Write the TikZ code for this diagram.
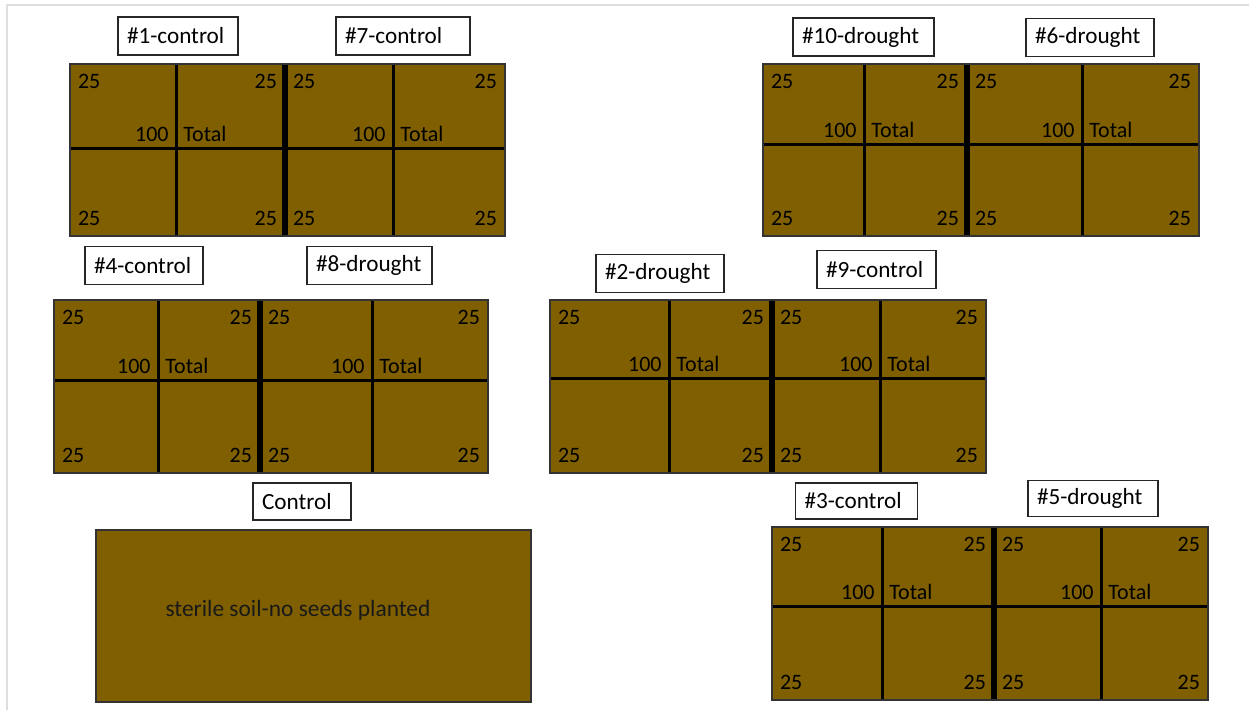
\documentclass[tikz,border=0pt]{standalone}
\usepackage{fontspec}
\setmainfont{Carlito}
\usepackage{tikz}
\usetikzlibrary{positioning}

\definecolor{soilbrown}{RGB}{127,95,0}
\definecolor{framegray}{RGB}{222,222,222}

% text of one half: four corner counts, the sum and its label
\newcommand{\plothalf}[7]{%
  \node[num, anchor=north west] (#1-tl) at (#2,#5) {25};
  \node[num, anchor=north east] (#1-tr) at (#4,#5) {25};
  \node[num, anchor=south west] (#1-bl) at (#2,#7) {25};
  \node[num, anchor=south east] (#1-br) at (#4,#7) {25};
  \node[num, anchor=south east, inner sep=3.5pt] (#1-sum) at (#3,#6) {100};
  \node[num, anchor=south west, inner sep=3.5pt] (#1-tot) at (#3,#6) {Total};
}
% a pair of plots: left, top, right, bottom, divider, mid1, mid2, hline, name
\newcommand{\plotpair}[9]{%
  \fill[soil] (#1,#2) rectangle (#3,#4);
  \draw[cellline] (#1,#8) -- (#3,#8);
  \draw[cellline] (#6,#2) -- (#6,#4);
  \draw[cellline] (#7,#2) -- (#7,#4);
  \draw[divider] (#5,#2) -- (#5,#4);
  \draw[plotedge] (#1,#2) rectangle (#3,#4);
  \plothalf{#9a}{#1}{#6}{#5}{#2}{#8}{#4}
  \plothalf{#9b}{#5}{#7}{#3}{#2}{#8}{#4}
}

\begin{document}
\begin{tikzpicture}[
  x=0.5pt, y=-0.5pt,
  soil/.style={fill=soilbrown},
  plotedge/.style={draw=black!80, line width=0.8pt},
  cellline/.style={draw=black, line width=1.5pt},
  divider/.style={draw=black, line width=3.2pt},
  num/.style={inner xsep=3.8pt, inner ysep=5pt, text=black, font=\fontsize{11}{13}\selectfont},
  labelbox/.style={draw=black!85, line width=0.8pt, fill=white, align=left, inner xsep=4.5pt,
    minimum height=19pt, font=\fontsize{11.6}{14}\selectfont},
]
\useasboundingbox (0,0) rectangle (1249,710);
\draw[framegray, line width=1pt] (7,710) -- (7,5) -- (1249,5);

\plotpair{70}{64}{505}{236}{285}{176}{393}{149}{p17}
\plotpair{763}{64}{1199}{236}{967}{864}{1082}{145}{p106}
\plotpair{54}{300}{488}{473}{260}{158}{372}{381}{p48}
\plotpair{550}{300}{986}{473}{772}{669}{880}{379}{p29}
\plotpair{772}{527}{1208}{700}{994}{882}{1101}{607}{p35}

\node[labelbox, text width=51pt] (t1) at (178,36) {\#1-control};
\node[labelbox, text width=58pt] (t7) at (403,36) {\#7-control};
\node[labelbox, text width=61.5pt] (t10) at (863.5,37) {\#10-drought};
\node[labelbox, text width=55pt] (t6) at (1090,37.5) {\#6-drought};
\node[labelbox, text width=50pt] (t4) at (144,265.5) {\#4-control};
\node[labelbox, text width=53.5pt] (t8) at (369.5,265.5) {\#8-drought};
\node[labelbox, text width=55pt] (t2) at (660,273.5) {\#2-drought};
\node[labelbox, text width=50.5pt] (t9) at (876.5,269.5) {\#9-control};
\node[labelbox, text width=52pt, minimum height=18pt] (t3) at (856.5,501) {\#3-control};
\node[labelbox, text width=56pt, minimum height=18pt] (t5) at (1093,498.5) {\#5-drought};
\node[labelbox, text width=40pt, minimum height=18.5pt] (tc) at (302,501.5) {Control};

\fill[soil] (96,530) rectangle (531,702);
\draw[plotedge] (96,530) rectangle (531,702);
\node[font=\fontsize{11.7}{14}\selectfont, text=black!90] (sterile) at (298,610) {sterile soil-no seeds planted};
\end{tikzpicture}
\end{document}
